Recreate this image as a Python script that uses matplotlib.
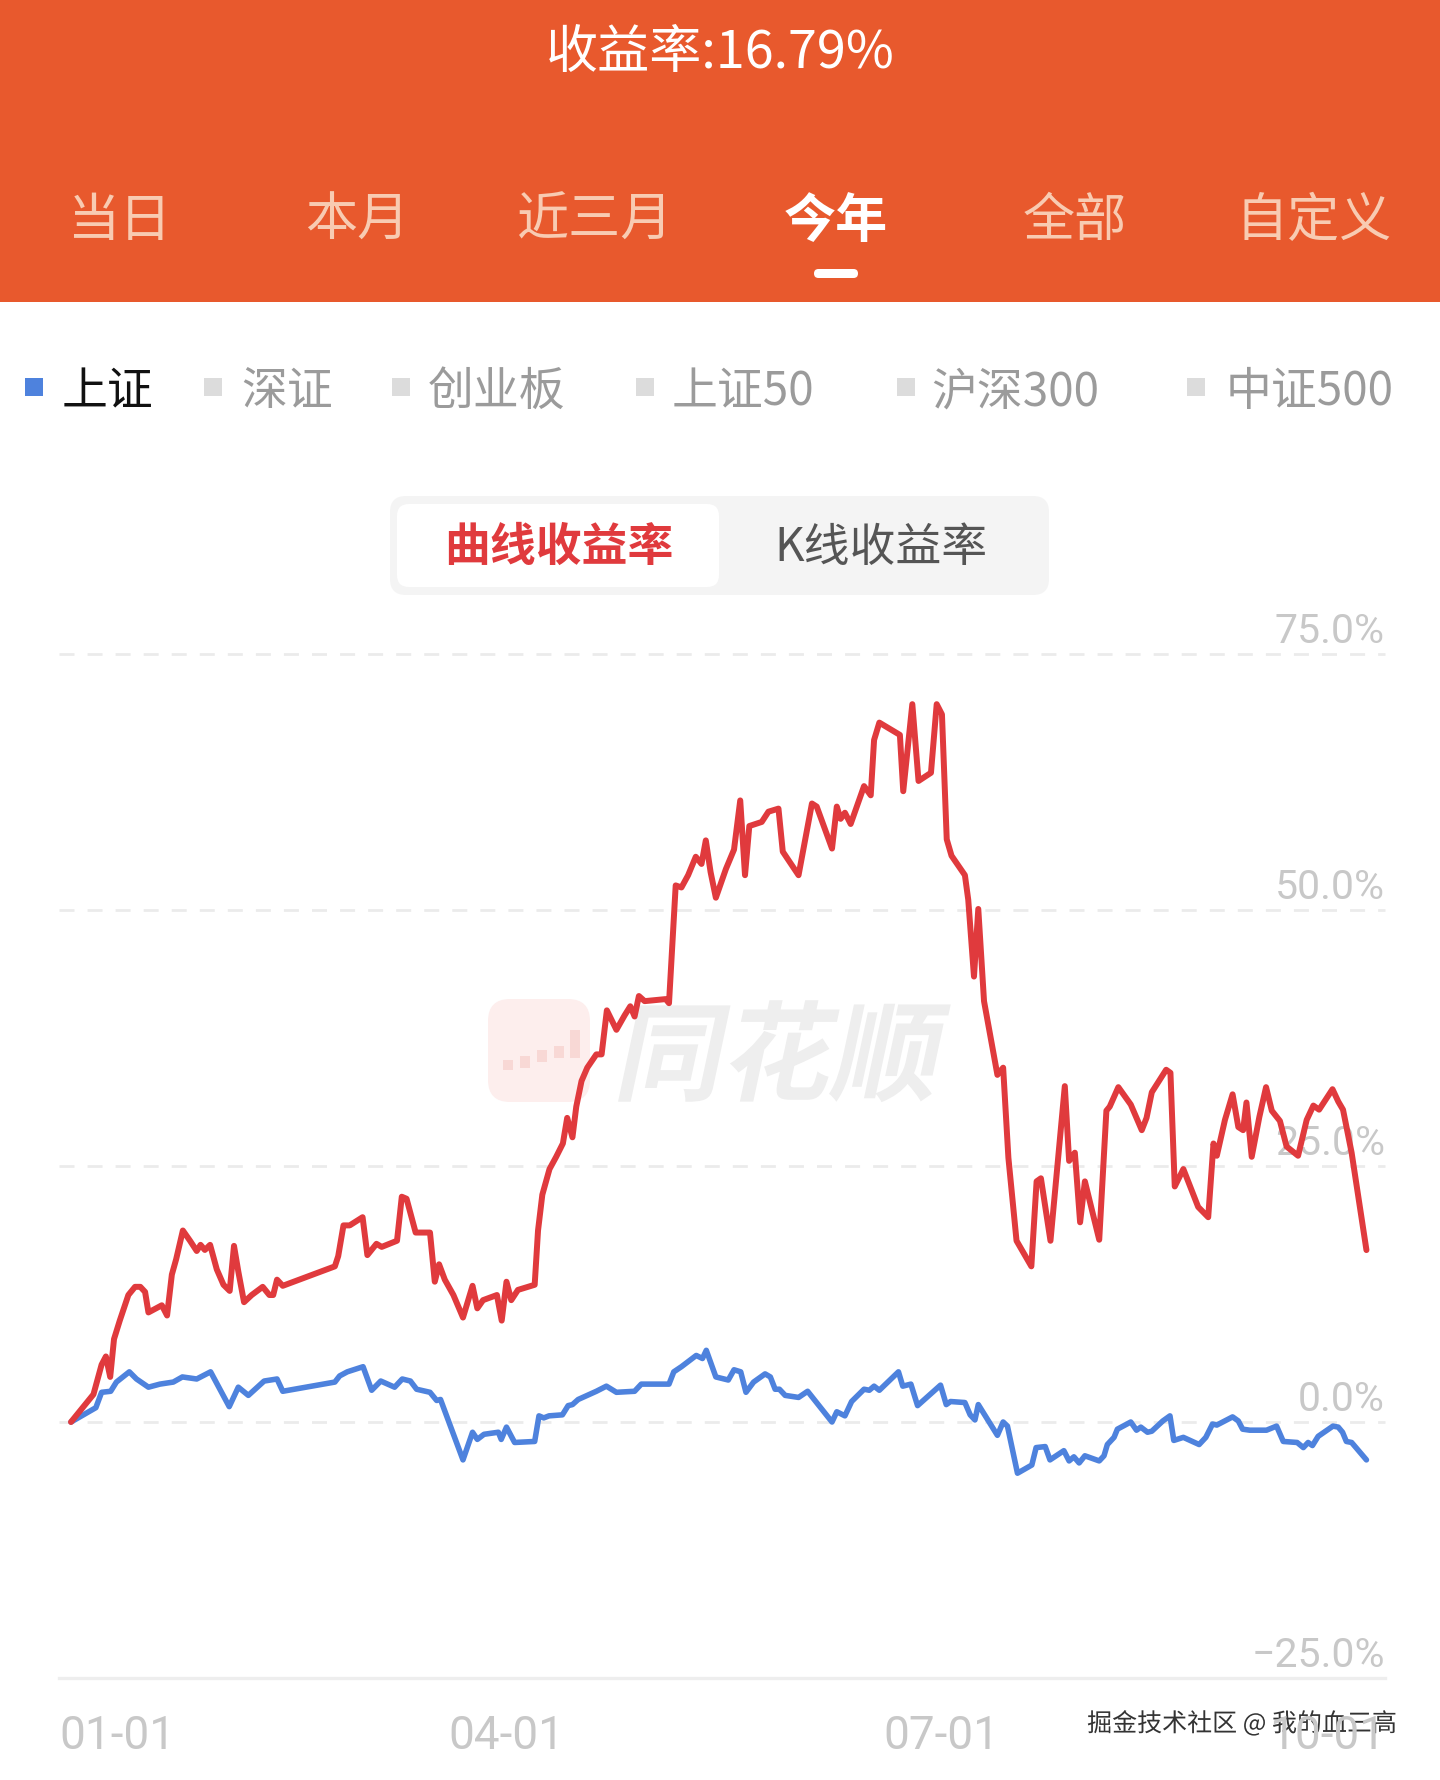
import matplotlib
matplotlib.use("Agg")
import matplotlib.pyplot as plt
import matplotlib.patheffects as pe
from matplotlib.patches import Rectangle, FancyBboxPatch, PathPatch
from matplotlib.textpath import TextPath
from matplotlib.font_manager import FontProperties
from matplotlib.transforms import Affine2D, blended_transform_factory

plt.rcParams['font.family'] = ['Noto Sans CJK SC', 'DejaVu Sans']
plt.rcParams['lines.scale_dashes'] = False

# ---- data ----
title_text = '收益率:16.79%'
period_tabs = ['当日', '本月', '近三月', '今年', '全部', '自定义']
active_tab = '今年'
index_names = ['上证', '深证', '创业板', '上证50', '沪深300', '中证500']
active_index = '上证'
mode_tabs = ['曲线收益率', 'K线收益率']

y_ticks = [75, 50, 25, 0, -25]
x_tick_days = [0, 91, 182, 273]
x_tick_labels = ['01-01', '04-01', '07-01', '10-01']

# strategy return (%), days since 01-01
red_days = [0, 4.7, 6.4, 7.3, 8.2, 9.0, 10.2, 12.0, 13.4, 14.5, 15.5, 16.2, 19.0, 20.1,
            21.1, 22.0, 23.4, 24.9, 26.3, 27.1, 28.0, 29.1, 30.5, 31.9, 33.2, 34.1, 35.0,
            36.2, 37.8, 40.1, 41.5, 42.3, 43.1, 44.3, 55.2, 55.9, 57.0, 58.3, 61.0, 62.0,
            63.9, 65.0, 68.2, 69.2, 70.2, 72.1, 75.1, 76.1, 77.0, 78.2, 80.0, 82.0, 84.0,
            85.0, 86.2, 89.1, 90.1, 91.1, 92.1, 93.5, 97.0, 97.7, 98.6, 100.1, 101.5,
            102.9, 103.8, 104.9, 105.7, 106.8, 108.0, 109.9, 111.0, 112.1, 114.1, 115.8,
            117.0, 117.9, 118.8, 120.0, 124.4, 125.1, 126.5, 127.7, 129.1, 130.7, 131.9,
            132.8, 133.8, 134.9, 137.0, 138.7, 140.0, 141.0, 141.9, 144.5, 145.9, 148.0,
            148.9, 152.2, 155.0, 156.0, 159.2, 160.2, 161.0, 161.9, 163.1, 165.9, 167.3,
            168.0, 169.1, 173.4, 174.1, 176.0, 177.3, 179.9, 181.1, 182.2, 183.2, 184.2,
            187.0, 187.7, 188.9, 189.8, 191.0, 193.8, 195.0, 196.1, 197.8, 200.9, 202.0,
            202.9, 204.9, 207.9, 208.8, 210.0, 211.1, 212.1, 215.1, 216.6, 217.3, 219.1,
            221.7, 224.0, 225.0, 226.1, 229.1, 230.0, 230.9, 232.7, 235.8, 237.9, 239.0,
            239.7, 241.4, 243.0, 244.2, 245.2, 245.9, 247.0, 248.6, 250.0, 251.2, 252.9,
            254.3, 256.7, 258.5, 259.9, 261.1, 263.9, 265.1, 266.1, 267.9, 271.0]
red_vals = [0, 2.7, 5.6, 6.4, 4.4, 8.1, 9.9, 12.4, 13.2, 13.2, 12.7, 10.7, 11.4, 10.4,
            14.4, 15.9, 18.7, 17.7, 16.7, 17.3, 16.8, 17.3, 14.9, 13.4, 12.8, 17.2, 14.7,
            11.7, 12.4, 13.2, 12.4, 12.4, 13.9, 13.3, 15.2, 16.2, 19.2, 19.2, 20.0, 16.3,
            17.4, 17.1, 17.7, 22.0, 21.8, 18.5, 18.5, 13.7, 15.4, 13.9, 12.4, 10.2, 13.3,
            11.1, 11.9, 12.4, 9.9, 13.7, 11.9, 12.9, 13.4, 18.7, 22.2, 24.7, 25.9,
            27.2, 29.7, 27.8, 30.8, 33.3, 34.6, 35.9, 35.9, 40.2, 38.3, 39.7,
            40.6, 39.6, 41.6, 41.1, 41.3, 40.9, 52.4, 52.2, 53.4, 55.2, 54.5,
            56.8, 53.7, 51.2, 54.0, 55.9, 60.7, 53.4, 58.2, 58.6, 59.6, 59.9,
            55.7, 53.4, 60.4, 60.1, 56.0, 60.1, 58.9, 59.5, 58.4, 62.1, 61.2,
            66.6, 68.3, 67.1, 61.6, 70.1, 62.6, 63.4, 70.1, 69.1, 56.9, 55.3,
            53.4, 51.0, 43.5, 50.1, 41.1, 33.9, 34.6, 25.8, 17.7, 15.2, 23.5,
            23.8, 17.7, 32.8, 25.5, 26.3, 19.5, 23.5, 17.8, 30.4, 30.8, 32.7,
            31.0, 28.5, 29.7, 32.2, 34.4, 34.1, 23.0, 24.7, 21.0, 20.0, 27.2,
            26.0, 29.5, 32.0, 28.8, 28.5, 31.2, 25.9, 29.8, 32.7, 30.4, 29.4,
            26.9, 26.0, 29.5, 30.9, 30.5, 32.5, 31.3, 30.5, 26.3, 16.79]

# 上证 benchmark return (%)
blue_days = [0, 5.2, 6.4, 8.3, 9.5, 12.2, 13.7, 16.2, 18.6, 21.4, 23.3, 26.3, 29.2, 33.1,
             35.0, 37.1, 40.4, 43.1, 44.3, 55.2, 56.2, 57.8, 61.1, 62.9, 64.8, 67.7, 69.3,
             71.0, 72.3, 75.1, 76.5, 77.3, 82.0, 84.0, 85.0, 86.4, 89.4, 90.0, 91.1, 92.8,
             97.0, 97.9, 98.9, 100.0, 102.8, 104.0, 104.9, 106.1, 109.9, 112.0, 114.1,
             117.9, 119.3, 125.1, 126.1, 127.7, 130.8, 132.1, 132.9, 134.9, 137.5, 138.7,
             140.1, 141.2, 142.8, 145.2, 146.3, 147.3, 148.2, 149.4, 152.2, 154.1, 159.2,
             160.2, 161.9, 163.3, 165.9, 167.0, 168.0, 169.1, 173.1, 174.0, 175.7, 177.1,
             181.9, 183.1, 184.0, 187.0, 188.1, 189.1, 189.8, 193.8, 195.0, 195.9, 198.0,
             201.0, 201.9, 203.8, 204.8, 207.7, 208.8, 209.8, 210.9, 212.1, 215.1, 216.1,
             216.8, 218.2, 218.9, 221.7, 222.9, 223.8, 225.2, 226.1, 228.4, 229.9, 230.7,
             232.7, 236.0, 237.4, 238.8, 239.7, 243.0, 244.2, 245.1, 246.6, 250.1, 252.2,
             253.6, 256.5, 257.8, 258.8, 259.7, 260.9, 264.0, 265.1, 266.0, 266.8, 267.9,
             271.0]
blue_vals = [0, 1.4, 2.9, 3.0, 3.9, 4.9, 4.2, 3.4, 3.7, 3.9, 4.4, 4.2, 4.9, 1.5,
             3.4, 2.6, 4.0, 4.2, 3.0, 3.9, 4.5, 4.9, 5.4, 3.1, 4.0, 3.4, 4.2,
             4.0, 3.2, 2.9, 2.1, 2.2, -3.7, -1.0, -1.7, -1.2, -1.0, -1.7, -0.5, -2.0,
             -1.9, 0.6, 0.4, 0.6, 0.7, 1.6, 1.7, 2.2, 3.0, 3.5, 2.9,
             3.0, 3.7, 3.7, 4.9, 5.4, 6.5, 6.2, 7.0, 4.4, 4.1, 5.1,
             4.9, 2.9, 3.9, 4.7, 4.4, 3.2, 3.2, 2.6, 2.4, 3.0, 0.0,
             1.0, 0.6, 2.0, 3.2, 3.1, 3.5, 3.1, 4.9, 3.5, 3.7, 1.6,
             3.6, 1.7, 2.0, 1.9, 0.7, 0.2, 1.7, -1.3, 0.0, -0.4, -5.0,
             -4.2, -2.5, -2.4, -3.7, -2.8, -3.8, -3.4, -4.0, -3.3, -3.8, -3.3,
             -2.2, -1.5, -0.7, 0.0, -0.8, -0.5, -1.0, -0.9, 0.1, 0.6, -1.8,
             -1.5, -2.2, -1.5, -0.2, -0.3, 0.5, 0.1, -0.7, -0.8, -0.8, -0.4,
             -1.9, -2.0, -2.5, -2.0, -2.3, -1.4, -0.4, -0.5, -1.0, -1.9, -2.0,
             -3.7]

# ---- styles ----
W, H = 1440, 1780
ORANGE = '#E8592D'
TAB_DIM = '#F8CBB2'
RED = '#E03A3D'
BLUE = '#4E82DD'
GRID = '#ebebeb'
TICK = '#c8c8c8'
GRAY_TXT = '#9b9b9b'

fig = plt.figure(figsize=(W / 100, H / 100), dpi=100)
fig.patch.set_facecolor('white')

# background layer in pixel coordinates (y down)
bg = fig.add_axes([0, 0, 1, 1], zorder=0)
bg.set_xlim(0, W)
bg.set_ylim(H, 0)
bg.axis('off')

# header band
bg.add_patch(Rectangle((0, 0), W, 302, color=ORANGE, lw=0))
bg.text(720, 53, title_text, color='white', fontsize=37.5, fontweight='medium',
        ha='center', va='center')

tab_x = [119, 357, 595, 836, 1075, 1314]
for name, x in zip(period_tabs, tab_x):
    on = name == active_tab
    bg.text(x, 221, name, color='white' if on else TAB_DIM, fontsize=37.5,
            fontweight='bold' if on else 'normal', ha='center', va='center')
    if on:
        bg.add_patch(FancyBboxPatch((x - 22, 269), 44, 9, boxstyle='round,pad=0,rounding_size=4.5',
                                    color='white', lw=0))

# index selector row
sq_x = [25, 204, 392, 636, 897, 1187]
txt_x = [62, 241, 428, 672, 931, 1226]
for name, sx, tx in zip(index_names, sq_x, txt_x):
    on = name == active_index
    bg.add_patch(Rectangle((sx, 378), 18, 18, color=BLUE if on else '#dcdcdc', lw=0))
    bg.text(tx, 392, name, color='#111111' if on else GRAY_TXT, fontsize=33,
            ha='left', va='center')

# mode toggle
bg.add_patch(FancyBboxPatch((390, 496), 659, 99, boxstyle='round,pad=0,rounding_size=16',
                            color='#f4f4f4', lw=0))
bg.add_patch(FancyBboxPatch((397, 504), 322, 83, boxstyle='round,pad=0,rounding_size=12',
                            color='white', lw=0))
bg.text(559, 548, mode_tabs[0], color=RED, fontsize=33, fontweight='bold', ha='center', va='center')
bg.text(881, 548, mode_tabs[1], color='#555555', fontsize=33, ha='center', va='center')

# faint app watermark behind the chart
bg.add_patch(FancyBboxPatch((488, 999), 102, 103, boxstyle='round,pad=0,rounding_size=22',
                            color='#fdeeed', lw=0))
for cx, cy, ch in [(503, 1060, 10), (520, 1056, 12), (537, 1050, 12), (554, 1046, 12), (570, 1030, 28)]:
    bg.add_patch(Rectangle((cx, cy), 10, ch, color='#f8d8d5', lw=0))
fp = FontProperties(family='Noto Sans CJK SC', weight='bold')
tp = TextPath((0, 0), '同花顺', size=108, prop=fp)
tr = Affine2D().skew_deg(12, 0).scale(1, -1).translate(612, 1092) + bg.transData
bg.add_patch(PathPatch(tp, transform=tr, facecolor='#eeeeee', edgecolor='none'))

# ---- chart ----
px_day = 435 / 91
ax = fig.add_axes([59 / W, 1 - 1678 / H, (1385 - 59) / W, (1678 - 654) / H], zorder=1)
ax.patch.set_facecolor('none')
ax.set_xlim(-12 / px_day, (1385 - 71) / px_day)
ax.set_ylim(-25, 75)
ax.axis('off')

ytr = blended_transform_factory(ax.transAxes, ax.transData)
for v in y_ticks:
    if v == y_ticks[-1]:
        ax.axhline(v, color='#eeeeee', lw=2.4, zorder=1, clip_on=False)
    else:
        ax.axhline(v, color=GRID, lw=2.0, linestyle=(0, (10.8, 9.4)), zorder=1, clip_on=False)
    lab = f'{v:.1f}%'.replace('-', '\u2212')
    ax.annotate(lab, xy=(1, v), xycoords=ytr, xytext=(0, 8), textcoords='offset points',
                ha='right', va='baseline', fontsize=29.5, family='Roboto', color=TICK, zorder=1)

ax.plot(blue_days, blue_vals, color=BLUE, lw=4.0, solid_joinstyle='round',
        solid_capstyle='round', zorder=3, clip_on=False)
ax.plot(red_days, red_vals, color=RED, lw=4.3, solid_joinstyle='round',
        solid_capstyle='round', zorder=4, clip_on=False)

# date labels under the base line
xl = ax.get_xlim()
lab_y = -25 - 58 * 100 / 1024
for i, (d, lab) in enumerate(zip(x_tick_days, x_tick_labels)):
    if i == 0:
        x, ha = xl[0], 'left'
    elif i == len(x_tick_labels) - 1:
        x, ha = xl[1], 'right'
    else:
        x, ha = d, 'center'
    ax.text(x, lab_y, lab, ha=ha, va='center', fontsize=33, family='Roboto',
            color=TICK, clip_on=False)

# site credit
bg.text(1397, 1724, '掘金技术社区 @ 我的血三高', color='#333333', fontsize=18, ha='right', va='center',
        zorder=5, path_effects=[pe.withStroke(linewidth=3, foreground='white')])

fig.savefig('out.png', dpi=100, facecolor='white')
